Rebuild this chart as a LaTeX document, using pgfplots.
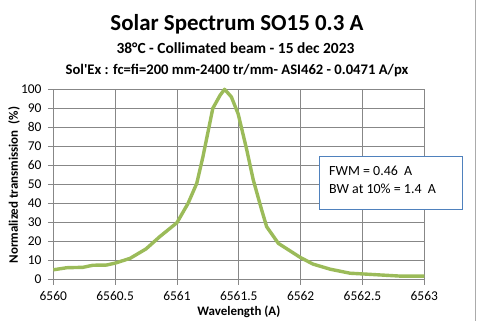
\documentclass[border=0pt]{standalone}
\usepackage{fontspec}
\defaultfontfeatures[\rmfamily]{}
\setmainfont{Carlito}
\usepackage{pgfplots}
\pgfplotsset{compat=1.18}
\definecolor{olive}{HTML}{9BBB59}
\definecolor{gridgray}{HTML}{878787}
\definecolor{boxblue}{HTML}{4F81BD}
\begin{document}
\begin{tikzpicture}
\path[use as bounding box] (-53.3bp,-41.7bp) rectangle (425.7bp,279.3bp);
\begin{axis}[
  at={(0,0)}, anchor=south west,
  scale only axis, width=371bp, height=190bp,
  xmin=6560, xmax=6563, ymin=0, ymax=100,
  xtick={6560,6560.5,...,6563},
  xticklabels={6560,6560.5,6561,6561.5,6562,6562.5,6563},
  ytick={0,10,...,100},
  grid=major,
  major grid style={gridgray, line width=0.8pt},
  axis line style={gridgray, line width=0.8pt},
  tick style={gridgray, line width=0.8pt},
  tick align=outside, major tick length=5.5bp,
  xtick pos=bottom, ytick pos=left,
  /pgf/number format/assume math mode=true,
  ticklabel style={font=\fontsize{13.5}{15}\selectfont, inner sep=1.5bp},
  yticklabel style={xshift=-4.6bp},
  xticklabel style={yshift=-4.5bp},
  xlabel={\textbf{Wavelength (A)}},
  ylabel={\textbf{Normalized transmission\ \ (\%)}},
  label style={font=\fontsize{13}{15}\selectfont},
  xlabel style={at={(axis description cs:0.5,0)}, anchor=base, yshift=-36.5bp},
  ylabel style={at={(axis description cs:-0.106,0.496)}, anchor=center},
  clip=false,
]
\addplot[olive, line width=3.4bp, line join=round] coordinates {
(6560.00,5.0) (6560.11,6.1) (6560.24,6.3) (6560.32,7.4) (6560.43,7.5)
(6560.50,8.5) (6560.62,11.0) (6560.75,16.0) (6560.86,22.4) (6561.00,29.8)
(6561.09,40.0) (6561.16,50.5) (6561.21,64.5) (6561.29,90.0) (6561.35,97.0)
(6561.385,100) (6561.44,96.0) (6561.495,87.0) (6561.563,68.5) (6561.617,52.3)
(6561.685,36.5) (6561.725,27.7) (6561.82,18.9) (6561.995,11.6) (6562.10,8.0)
(6562.24,5.3) (6562.40,3.2) (6562.51,2.8) (6562.64,2.3) (6562.80,1.7) (6563,1.7)
};
\end{axis}
\node[anchor=base, font=\bfseries\fontsize{23}{26}\selectfont] at (183.7bp,248.6bp) {Solar Spectrum SO15 0.3 A};
\node[anchor=base, font=\bfseries\fontsize{15.5}{17}\selectfont] at (182.2bp,226bp) {38\textdegree C - Collimated beam - 15 dec 2023};
\node[anchor=base, font=\bfseries\fontsize{14.7}{17}\selectfont] at (183.7bp,204.6bp) {Sol'Ex : fc=fi=200 mm-2400 tr/mm- ASI462 - 0.0471 A/px};
\draw[boxblue, line width=0.8pt, fill=white] (265.7bp,70bp) rectangle (409.4bp,122.6bp);
\node[anchor=base west, font=\fontsize{14}{16}\selectfont] at (272.4bp,104bp) {FWM = 0.46\ \ A};
\node[anchor=base west, font=\fontsize{14}{16}\selectfont] at (272.4bp,85.5bp) {BW at 10\% = 1.4\ \ A};
\draw[gridgray!70, line width=0.8pt] (421.7bp,-41.7bp) -- (421.7bp,279.3bp);
\end{tikzpicture}
\end{document}
